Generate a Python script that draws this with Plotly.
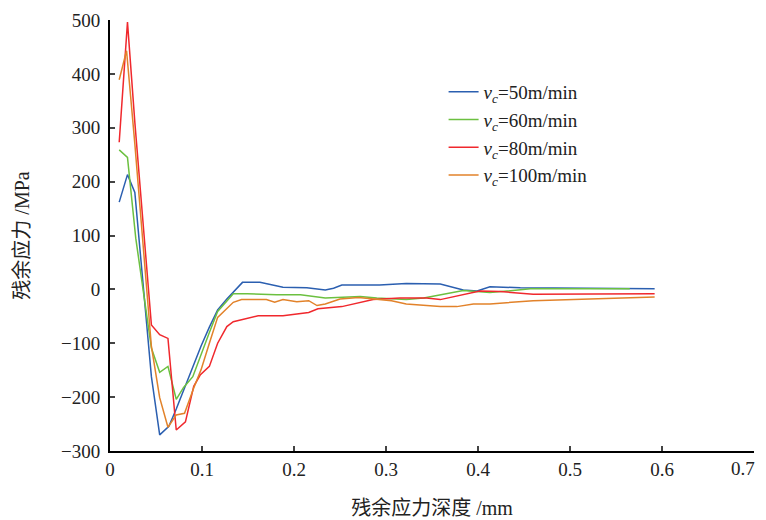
import plotly.graph_objects as go

x_50 = [0.010, 0.019, 0.027, 0.036, 0.045, 0.054, 0.064, 0.072, 0.081, 0.090, 0.099, 0.108, 0.117, 0.127,
        0.144, 0.163, 0.188, 0.214, 0.234, 0.243, 0.252, 0.293, 0.322, 0.359, 0.384, 0.399, 0.413, 0.446, 0.592]
y_50 = [162, 213, 180, 10, -162, -270, -254, -222, -183, -143, -105, -70, -38, -18,
        13, 13, 4, 3, -1, 2, 8, 8, 11, 10, -1, -3, 5, 3, 1]

x_60 = [0.010, 0.019, 0.028, 0.036, 0.045, 0.054, 0.063, 0.072, 0.080, 0.090, 0.099, 0.108, 0.117, 0.134,
        0.149, 0.181, 0.207, 0.234, 0.272, 0.290, 0.322, 0.341, 0.384, 0.413, 0.457, 0.565]
y_60 = [259, 245, 95, -5, -109, -154, -143, -204, -182, -162, -120, -80, -41, -8,
        -8, -10, -10, -16, -13, -16, -19, -16, -2, -6, 1, 1]

x_80 = [0.010, 0.019, 0.027, 0.036, 0.045, 0.054, 0.063, 0.072, 0.082, 0.091, 0.098, 0.108, 0.117, 0.127,
        0.134, 0.161, 0.188, 0.216, 0.226, 0.252, 0.286, 0.315, 0.344, 0.359, 0.384, 0.402, 0.424, 0.460, 0.592]
y_80 = [273, 496, 310, 120, -66, -84, -91, -261, -246, -180, -159, -143, -100, -69,
        -60, -49, -49, -43, -36, -32, -19, -16, -16, -19, -10, -3, -4, -9, -8]

x_100 = [0.010, 0.018, 0.027, 0.036, 0.045, 0.054, 0.063, 0.072, 0.081, 0.091, 0.099, 0.108, 0.117, 0.134,
         0.143, 0.170, 0.179, 0.188, 0.203, 0.216, 0.225, 0.234, 0.250, 0.270, 0.290, 0.306, 0.322, 0.359,
         0.377, 0.395, 0.413, 0.460, 0.592]
y_100 = [389, 443, 270, 85, -106, -201, -256, -233, -230, -183, -149, -100, -52, -24,
         -19, -19, -24, -19, -23, -21, -30, -27, -18, -15, -19, -21, -27, -32,
         -32, -27, -27, -21, -14]

series_names = ["<i>v</i><sub><i>c</i></sub>=50m/min", "<i>v</i><sub><i>c</i></sub>=60m/min",
                "<i>v</i><sub><i>c</i></sub>=80m/min", "<i>v</i><sub><i>c</i></sub>=100m/min"]
colors = ["#2b5fb0", "#6cc040", "#f0282d", "#e2822a"]

x_ticks = [0, 0.1, 0.2, 0.3, 0.4, 0.5, 0.6, 0.7]
x_tick_text = ["0", "0.1", "0.2", "0.3", "0.4", "0.5", "0.6", "0.7"]
y_ticks = [-300, -200, -100, 0, 100, 200, 300, 400, 500]
y_tick_text = ["\u2212300", "\u2212200", "\u2212100", "0", "100", "200", "300", "400", "500"]

fig = go.Figure()
for xs, ys, name, c in zip([x_50, x_60, x_80, x_100], [y_50, y_60, y_80, y_100], series_names, colors):
    fig.add_trace(go.Scatter(x=xs, y=ys, mode="lines", name=name,
                             line=dict(color=c, width=1.5)))

# last x tick label is placed as an annotation so it stays inside the visible page
shown_x_text = x_tick_text[:-1] + [""]
fig.add_annotation(x=x_ticks[-1], xref="x", y=0, yref="paper", text=x_tick_text[-1],
                   showarrow=False, xanchor="right", yanchor="top", xshift=3, yshift=-5,
                   font=dict(size=19))

font_fam = "'Liberation Serif', 'Times New Roman', 'Noto Sans CJK SC', serif"
fig.update_layout(
    width=758, height=520,
    margin=dict(l=102, r=12, t=12, b=77),
    paper_bgcolor="white", plot_bgcolor="white",
    font=dict(family=font_fam, size=19, color="#222"),
    showlegend=True,
    legend=dict(x=0.518, y=0.877, xanchor="left", yanchor="top",
                bgcolor="rgba(0,0,0,0)", font=dict(size=19, family=font_fam),
                itemwidth=30),
    xaxis=dict(range=[0, 0.7], tickvals=x_ticks, ticktext=shown_x_text, automargin=False,
               showgrid=False, zeroline=False, showline=True, linecolor="black", linewidth=2,
               ticks="inside", ticklen=5, tickcolor="#444", tickwidth=1.5,
               title=dict(text="残余应力深度 /mm", standoff=22, font=dict(size=20))),
    yaxis=dict(range=[-300, 500], tickvals=y_ticks, ticktext=y_tick_text, automargin=False,
               showgrid=False, zeroline=False, showline=True, linecolor="black", linewidth=2,
               ticks="inside", ticklen=5, tickcolor="#444", tickwidth=1.5,
               ticklabelstandoff=4,
               title=dict(text="残余应力 /MPa", standoff=26, font=dict(size=20))),
)

fig.write_html("out.html")
